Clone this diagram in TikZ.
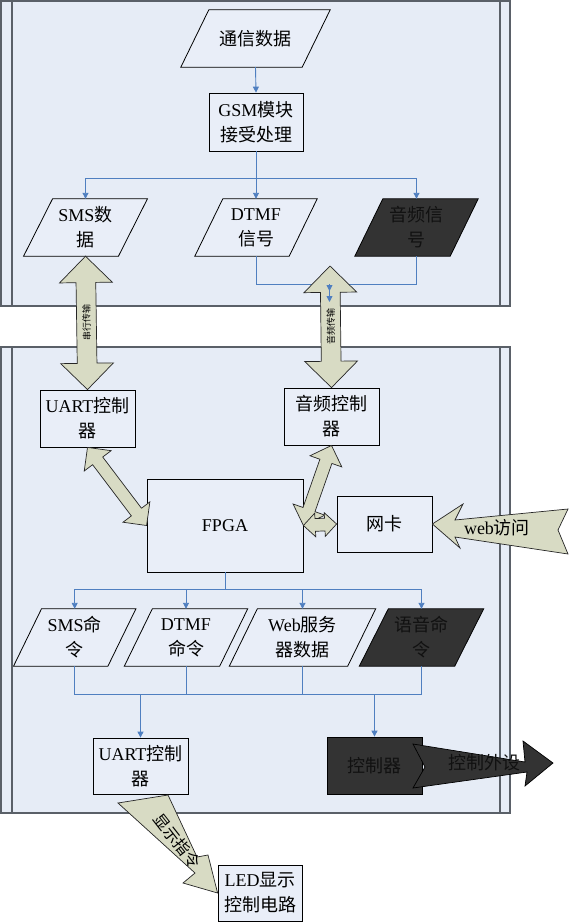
\documentclass[tikz,border=0pt]{standalone}
\usepackage{fontspec}
\setmainfont{Liberation Serif}
\newfontfamily\cjk{Noto Sans CJK SC}
\newcommand\zh[1]{{\cjk #1}}
\usetikzlibrary{shapes.arrows,arrows.meta,calc}
\pgfdeclarelayer{bg}
\pgfsetlayers{bg,main}
\definecolor{panelfill}{HTML}{E6ECF6}
\definecolor{panelline}{HTML}{5A6068}
\definecolor{nodefill}{HTML}{E9EEF8}
\definecolor{flowblue}{HTML}{4F7FC0}
\definecolor{khaki}{HTML}{D8DBC4}
\definecolor{darkfill}{HTML}{333333}
\definecolor{darktext}{HTML}{111111}
\newcommand\paraout[3]{%
\begin{pgfonlayer}{bg}
\filldraw[fill=#3, draw=black, line width=0.8pt, line join=miter]
 ([xshift=#2/2]#1.north west) -- ([xshift=#2/2]#1.north east) -- ([xshift=-#2/2]#1.south east) -- ([xshift=-#2/2]#1.south west) -- cycle;
\end{pgfonlayer}}
\newcommand\blockarrow[4]{%
\path let \p1=(#1), \p2=(#2), \n1={veclen(\x2-\x1,\y2-\y1)}, \n2={atan2(\y2-\y1,\x2-\x1)} in
 node[#3, minimum height=\n1, rotate=\n2] at ($(\p1)!.5!(\p2)$) {#4};}
\tikzset{
 txt/.style={font=\fontsize{18}{25}\selectfont, align=center, inner sep=0pt},
 boxnode/.style={txt, draw=black, fill=nodefill, line width=0.8pt, minimum width=95pt, minimum height=57pt},
 paranode/.style={txt, minimum height=57pt},
 darktxt/.style={text=darktext},
 panel/.style={fill=panelfill, draw=panelline, line width=1.5pt},
 laneline/.style={draw=panelline, line width=1.5pt},
 flow/.style={draw=flowblue, line width=0.9pt},
 flowarr/.style={flow, -{Triangle[length=6pt,width=6pt]}},
 dblbase/.style={double arrow, draw=black!85, fill=khaki, line width=0.7pt, double arrow tip angle=90, inner xsep=0pt},
 dblt/.style={dblbase, inner ysep=5pt, text height=8pt, text depth=1pt, double arrow head extend=16.5pt, font=\fontsize{9}{10}\selectfont},
 dbls/.style={dblbase, inner ysep=6pt, text height=0pt, text depth=0pt, double arrow head extend=10.5pt},
 dblxs/.style={dblbase, inner ysep=6pt, text height=0pt, text depth=0pt, double arrow head extend=5.5pt},
 khakiarrow/.style={draw=black!85, fill=khaki, line width=0.7pt, line join=miter},
 darkarrow/.style={draw=black, fill=darkfill, line width=0.7pt, line join=miter},
}
\begin{document}
\begin{tikzpicture}[x=1pt,y=-1pt]
\useasboundingbox (0,0) rectangle (571,922);
\begin{pgfonlayer}{bg}
 \filldraw[panel] (1,1) rectangle (510,306);
 \draw[laneline] (12,1) -- (12,306);
 \draw[laneline] (500,1) -- (500,306);
 \filldraw[panel] (1,347) rectangle (510,813);
 \draw[laneline] (12,347) -- (12,813);
 \draw[laneline] (500,347) -- (500,813);
\end{pgfonlayer}
% top lane
\node[paranode, minimum width=121pt] (tx) at (255.5,38.5) {\zh{通信数据}};
\node[boxnode, minimum width=94pt, minimum height=58pt] (gsm) at (256,122) {GSM\zh{模块}\\\zh{接受处理}};
\node[paranode, minimum width=94.5pt] (sms) at (85.5,227.5) {SMS\zh{数}\\\zh{据}};
\node[paranode, minimum width=94pt] (dtmf) at (256,227.5) {DTMF\\\zh{信号}};
\node[paranode, minimum width=95pt, darktxt] (aud) at (416.5,227.5) {\zh{音频信}\\\zh{号}};
\paraout{tx}{28}{nodefill}
\paraout{sms}{29}{nodefill}
\paraout{dtmf}{28}{nodefill}
\paraout{aud}{28}{darkfill}
% bottom lane
\node[boxnode] (uart1) at (87.5,418.5) {UART\zh{控制}\\\zh{器}};
\node[boxnode] (actrl) at (331.5,416.5) {\zh{音频控制}\\\zh{器}};
\node[boxnode, minimum width=156pt, minimum height=93pt] (fpga) at (225,525.5) {FPGA};
\node[boxnode, minimum height=56pt] (nic) at (384.5,524) {\zh{网卡}};
\node[paranode, minimum width=94pt] (sms2) at (74.7,637.5) {SMS\zh{命}\\\zh{令}};
\node[paranode, minimum width=95pt] (dt2) at (186,637.5) {DTMF\\\zh{命令}};
\node[paranode, minimum width=118pt] (web) at (302.5,637.5) {Web\zh{服务}\\\zh{器数据}};
\node[paranode, minimum width=95pt, darktxt] (voice) at (421.5,637.5) {\zh{语音命}\\\zh{令}};
\paraout{sms2}{28}{nodefill}
\paraout{dt2}{28}{nodefill}
\paraout{web}{28}{nodefill}
\paraout{voice}{29}{darkfill}
\node[boxnode, minimum height=56pt] (uart2) at (140.5,766) {UART\zh{控制}\\\zh{器}};
\node[boxnode, fill=darkfill, darktxt] (ctrl) at (374.5,765.5) {\zh{控制器}};
\node[boxnode, minimum width=84pt, minimum height=56pt] (led) at (260,893) {LED\zh{显示}\\\zh{控制电路}};
% flow lines top
\coordinate (j1) at (0,178);
\draw[flowarr] (tx.south) -- (gsm.north);
\draw[flow] (gsm.south) -- (gsm.south |- j1);
\draw[flowarr] (gsm.south |- j1) -| (sms.north);
\draw[flowarr] (gsm.south |- j1) -| (aud.north);
\draw[flowarr] (gsm.south |- j1) -- (dtmf.north);
\coordinate (j2) at (329.5,284);
\coordinate (ae) at (329.5,302);
\coordinate (atop) at (330,266);
\draw[flow] (dtmf.south) |- (aud.south |- j2) -- (aud.south);
% block arrows
\blockarrow{uart1.north}{sms.south}{dblt, name=serial}{\zh{串行传输}}
\blockarrow{actrl.north}{atop}{dblt, name=audiot}{\zh{音频传输}}
\blockarrow{fpga.west}{uart1.south}{dbls, name=ufa}{}
\blockarrow{fpga.east}{actrl.south}{dbls, name=afa}{}
\blockarrow{fpga.east}{nic.west}{dblxs, name=fna}{}
\draw[flow, -{Triangle[length=6pt,width=6pt,sep=5pt]Triangle[length=6pt,width=6pt]}] (j2) -- (ae);
% flow lines bottom
\coordinate (j3) at (0,589);
\draw[flow] (fpga.south) -- (fpga.south |- j3);
\draw[flowarr] (fpga.south |- j3) -| (sms2.north);
\draw[flowarr] (fpga.south |- j3) -| (dt2.north);
\draw[flowarr] (fpga.south |- j3) -| (web.north);
\draw[flowarr] (fpga.south |- j3) -| (voice.north);
\coordinate (j4) at (0,694);
\draw[flow] (sms2.south) |- (voice.south |- j4) -- (voice.south);
\draw[flow] (dt2.south) -- (dt2.south |- j4);
\draw[flow] (web.south) -- (web.south |- j4);
\draw[flowarr] (uart2.north |- j4) -- (uart2.north);
\draw[flowarr] (ctrl.north |- j4) -- (ctrl.north);
% web access arrow
\draw[khakiarrow] (nic.east) -- (463,504) -- (455,520) -- (568,509) -- (558,530) -- (568,554) -- (455,537) -- (460,548) -- cycle;
\node[txt] (webt) at (497,528) {web\zh{访问}};
% control output arrow
\coordinate (ctip) at (553,763);
\draw[darkarrow] (413,744) -- (525,762) -- (523,741) -- (ctip) -- (525,786) -- (527,772) -- (413,788) -- (425,767) -- cycle;
\node[txt, darktxt] (ctrlout) at (484,763) {\zh{控制外设}};
% display command arrow
\draw[khakiarrow] (118,803) -- (168,795) -- (197,857) -- (208,855) -- (led.west) -- (183,883) -- (195,873) -- cycle;
\node[txt, font=\fontsize{16}{18}\selectfont, rotate=-52] (dispt) at (177,841) {\zh{显示指令}};
\end{tikzpicture}
\end{document}
